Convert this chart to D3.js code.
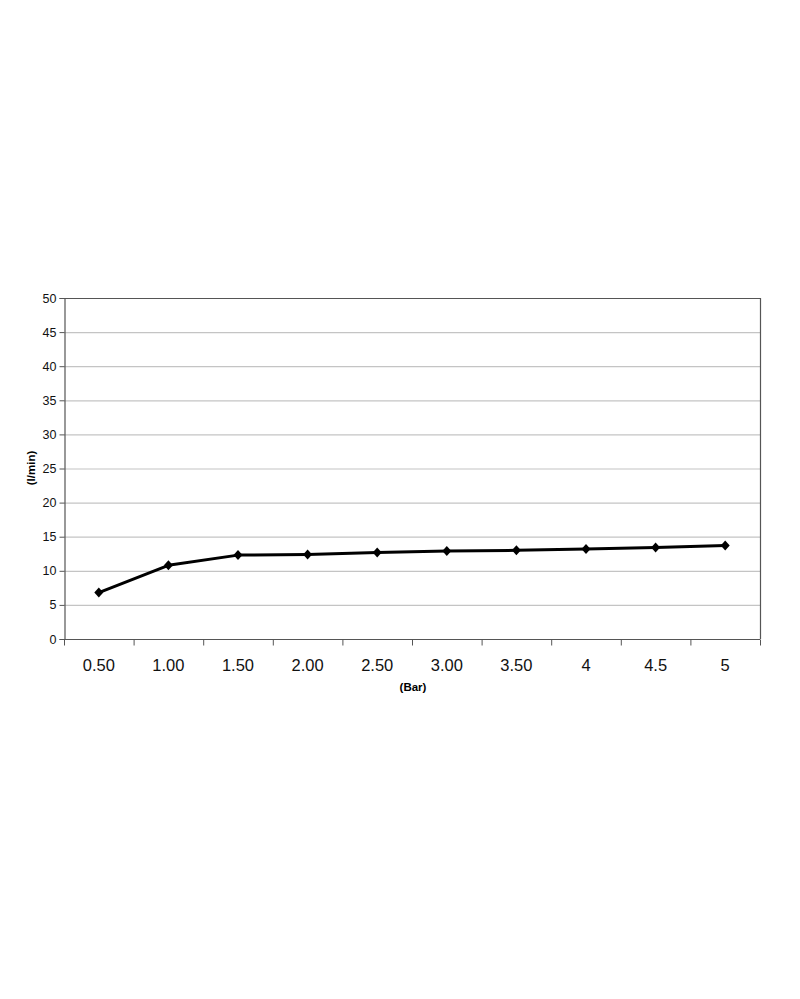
<!DOCTYPE html>
<html><head><meta charset="utf-8">
<script src="https://cdn.jsdelivr.net/npm/d3@7"></script>
<style>body{margin:0;background:#fff}svg{display:block}</style>
</head><body>
<script>
const categories = ["0.50","1.00","1.50","2.00","2.50","3.00","3.50","4","4.5","5"];
const values = [6.8, 10.8, 12.3, 12.4, 12.7, 12.9, 13.0, 13.2, 13.4, 13.7];
const yTicks = [0,5,10,15,20,25,30,35,40,45,50];

const W = 800, H = 999;
const m = {left:64, right:760, top:298, bottom:639};
const svg = d3.select("body").append("svg").attr("width",W).attr("height",H);

const x = d3.scaleBand().domain(categories).range([m.left,m.right]).padding(0);
const y = d3.scaleLinear().domain([0,50]).range([m.bottom,m.top]);

// gridlines
svg.append("g").selectAll("line").data(yTicks.filter(d=>d>0&&d<50)).join("line")
  .attr("x1",m.left).attr("x2",m.right)
  .attr("y1",d=>y(d)+0.5).attr("y2",d=>y(d)+0.5)
  .attr("stroke","#c4c4c4").attr("stroke-width",1.2);

// plot border top & right
svg.append("line").attr("x1",m.left).attr("x2",m.right).attr("y1",m.top+0.5).attr("y2",m.top+0.5).attr("stroke","#555").attr("stroke-width",1.2);
svg.append("line").attr("x1",m.right+0.5).attr("x2",m.right+0.5).attr("y1",m.top).attr("y2",m.bottom).attr("stroke","#555").attr("stroke-width",1.2);

// y axis
const yAxis = d3.axisLeft(y).tickValues(yTicks).tickSize(5).tickPadding(3).tickFormat(d3.format("d"));
const gy = svg.append("g").attr("transform",`translate(${m.left+0.5},0)`).call(yAxis);
gy.select(".domain").attr("stroke","#555").attr("stroke-width",1.2);
gy.selectAll(".tick line").attr("stroke","#555");
gy.selectAll("text").attr("font-family","Liberation Sans, Arial, sans-serif").attr("font-size",12.5).attr("fill","#111");

// x axis with ticks at category boundaries
const gx = svg.append("g").attr("transform",`translate(0,${m.bottom+0.5})`);
gx.append("line").attr("x1",m.left).attr("x2",m.right).attr("stroke","#555").attr("stroke-width",1.2);
const bounds = categories.map(c=>x(c)).concat([x(categories[categories.length-1])+x.bandwidth()]);
gx.selectAll("line.tk").data(bounds).join("line").attr("class","tk")
  .attr("x1",d=>d+0.5).attr("x2",d=>d+0.5).attr("y1",0).attr("y2",6)
  .attr("stroke","#555").attr("stroke-width",1);
gx.selectAll("text").data(categories).join("text")
  .attr("x",d=>x(d)+x.bandwidth()/2).attr("y",31)
  .attr("text-anchor","middle")
  .attr("font-family","Liberation Sans, Arial, sans-serif").attr("font-size",16.5).attr("fill","#111")
  .text(d=>d);

// axis titles
svg.append("text").attr("x",413).attr("y",691).attr("text-anchor","middle")
  .attr("font-family","Liberation Sans, Arial, sans-serif").attr("font-weight","bold").attr("font-size",11.5)
  .text("(Bar)");
svg.append("text").attr("transform","translate(35,468) rotate(-90)").attr("text-anchor","middle")
  .attr("font-family","Liberation Sans, Arial, sans-serif").attr("font-weight","bold").attr("font-size",11.5)
  .text("(l/min)");

// line
const line = d3.line().x((d,i)=>x(categories[i])+x.bandwidth()/2).y(d=>y(d));
svg.append("path").datum(values).attr("d",line).attr("fill","none")
  .attr("stroke","#000").attr("stroke-width",3).attr("stroke-linejoin","round");

// markers
svg.append("g").selectAll("path").data(values).join("path")
  .attr("transform",(d,i)=>`translate(${x(categories[i])+x.bandwidth()/2},${y(d)})`)
  .attr("d","M0,-5L4.5,0L0,5L-4.5,0Z").attr("fill","#000");
</script>
</body></html>
